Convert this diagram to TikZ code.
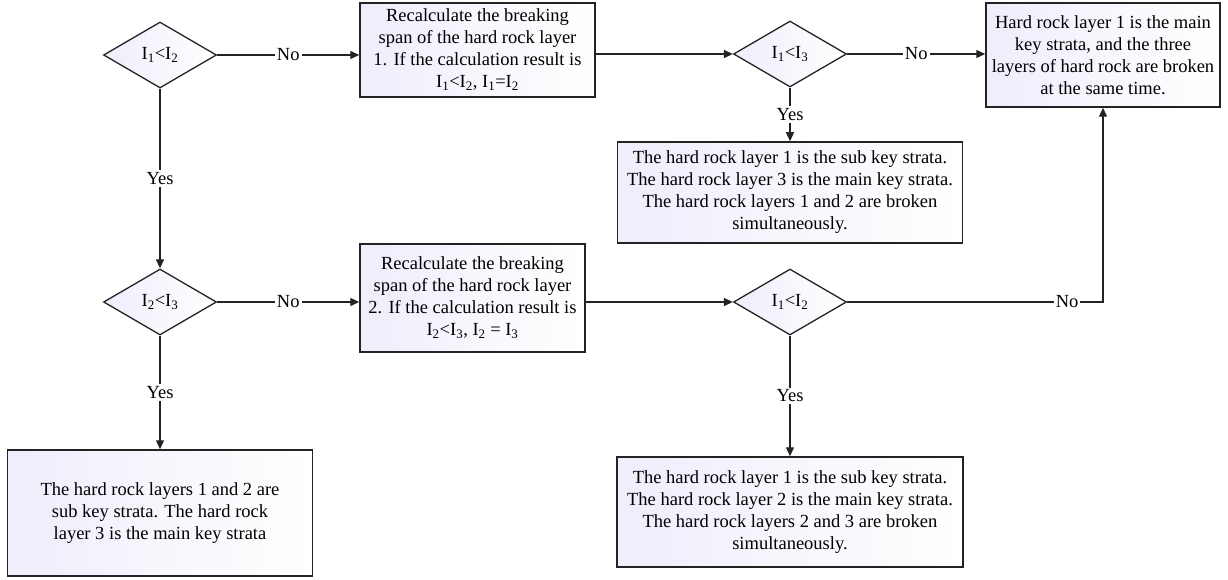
\documentclass[tikz,border=0pt]{standalone}
\usepackage{fontspec}
\setmainfont{Liberation Serif}
\usetikzlibrary{shapes.geometric, arrows.meta, positioning}
\definecolor{lavbg}{RGB}{238,238,252}
\definecolor{inkline}{RGB}{35,35,35}

\begin{document}
\begin{tikzpicture}[
    % GLOBAL CFG
    x=1pt, y=-1pt,
    font=\fontsize{18.5}{22}\selectfont,
    >={Triangle[length=9pt,width=8pt]},
    line width=1.3pt,
    draw=inkline,
    % Styles
    result/.style={% For the boxes with text
        rectangle,
        draw=inkline,
        line width=1.5pt,
        shading angle=-45,
        left color=lavbg,
        right color=white,
        align=center,
        inner sep=3pt,
        },
    test/.style={% For the comparisons
        diamond,
        draw=inkline,
        left color=lavbg,
        right color=white,
        minimum width=113,
        minimum height=66,
        inner sep=1pt,
        },
    lbl/.style={% Yes / No on the lines
        fill=white,
        inner sep=2pt,
        },
    ]

    \useasboundingbox (0,0) rectangle (1228,580);

    % Draw the comparisons
    \node [test] (cmp12) at (160,55) {I\textsubscript{1}<I\textsubscript{2}};
    \node [test] (cmp13) at (790,54) {I\textsubscript{1}<I\textsubscript{3}};
    \node [test] (cmp23) at (160,302) {I\textsubscript{2}<I\textsubscript{3}};
    \node [test] (cmp12b) at (790,302) {I\textsubscript{1}<I\textsubscript{2}};

    % Draw the recalculations
    \node [result, minimum width=235, minimum height=94] (recalc1) at (477.5,50)
        {Recalculate the breaking\\ span of the hard rock layer\\ 1. If the calculation result is\\ I\textsubscript{1}<I\textsubscript{2}, I\textsubscript{1}=I\textsubscript{2}};
    \node [result, minimum width=225, minimum height=108] (recalc2) at (472.5,298)
        {Recalculate the breaking\\ span of the hard rock layer\\ 2. If the calculation result is\\ I\textsubscript{2}<I\textsubscript{3}, I\textsubscript{2} = I\textsubscript{3}};

    % Draw the outcomes
    \node [result, minimum width=234, minimum height=104] (allmain) at (1103,55)
        {Hard rock layer 1 is the main\\ key strata, and the three\\ layers of hard rock are broken\\ at the same time.};
    \node [result, minimum width=345, minimum height=101] (main3) at (790,192.5)
        {The hard rock layer 1 is the sub key strata.\\ The hard rock layer 3 is the main key strata.\\ The hard rock layers 1 and 2 are broken\\ simultaneously.};
    \node [result, minimum width=305, minimum height=126] (sub12) at (160,513)
        {The hard rock layers 1 and 2 are\\ sub key strata. The hard rock\\ layer 3 is the main key strata};
    \node [result, minimum width=346, minimum height=110] (main2) at (790,512)
        {The hard rock layer 1 is the sub key strata.\\ The hard rock layer 2 is the main key strata.\\ The hard rock layers 2 and 3 are broken\\ simultaneously.};

    % Connect all
    \draw [->] (cmp12) -- node[lbl] {No} (cmp12 -| recalc1.west);
    \draw [->] (recalc1.east |- cmp13) -- (cmp13);
    \draw [->] (cmp13) -- node[lbl] {No} (cmp13 -| allmain.west);
    \draw [->] (cmp13) -- node[lbl] {Yes} (main3);

    \draw [->] (cmp12) -- node[lbl] {Yes} (cmp23);
    \draw [->] (cmp23) -- node[lbl] {No} (cmp23 -| recalc2.west);
    \draw [->] (recalc2.east |- cmp12b) -- (cmp12b);
    \draw [->] (cmp12b) -| node[lbl, pos=0.43] {No} (allmain);

    \draw [->] (cmp23) -- node[lbl] {Yes} (sub12);
    \draw [->] (cmp12b) -- node[lbl] {Yes} (main2);

\end{tikzpicture}
\end{document}
